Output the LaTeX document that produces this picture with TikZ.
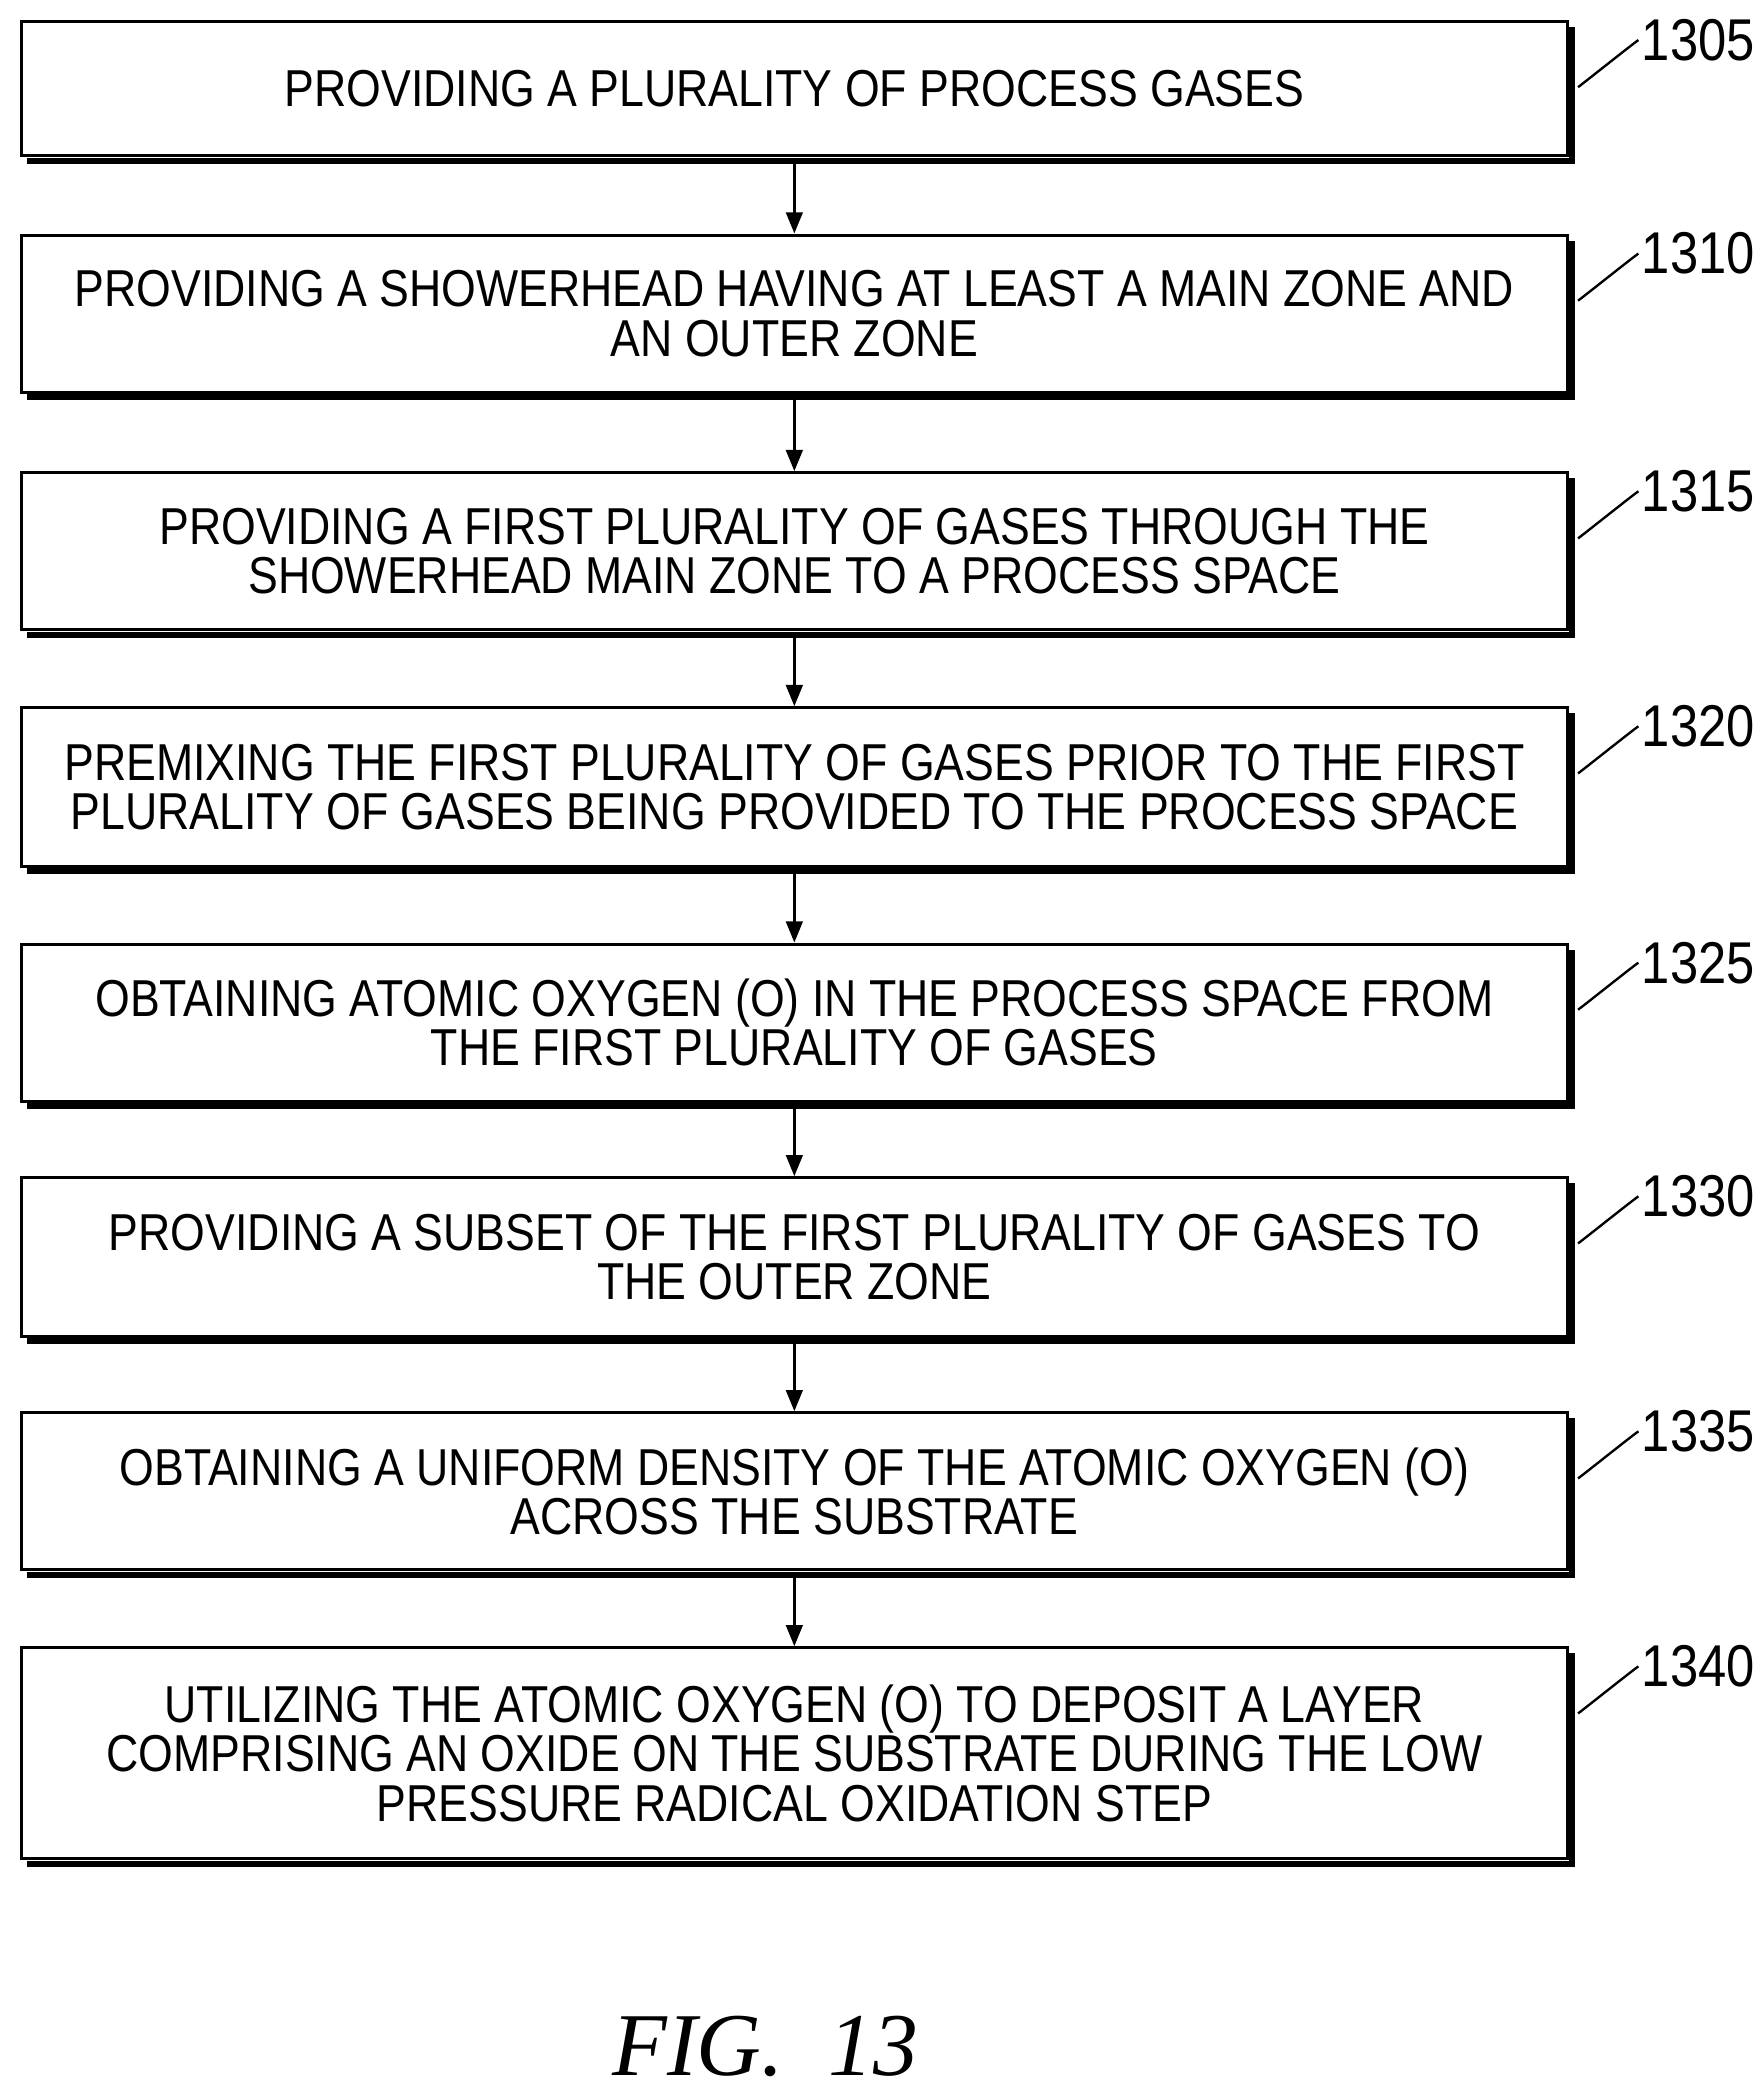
\documentclass[tikz,border=0pt]{standalone}
\usepackage{fontspec}
\setmainfont[FakeStretch=0.86]{Liberation Sans}
\newfontfamily\figfont{Liberation Serif}
\usetikzlibrary{arrows.meta,positioning}
\tikzset{
  stepbox/.style={rectangle, draw, line width=1.3pt, minimum width=23.02cm,
    align=center, font=\fontsize{22}{21}\selectfont, inner sep=0pt},
  flow/.style={-{Triangle[length=9pt,width=7pt]}, line width=1.3pt},
  reflabel/.style={font=\fontsize{25}{25}\selectfont, anchor=west, inner sep=1pt}
}
\newcommand{\boxshadow}[1]{\draw[line width=2.6pt] ([xshift=3pt,yshift=-1.5pt]#1.south west) -- ([xshift=1.5pt,yshift=-1.5pt]#1.south east) -- ([xshift=1.5pt,yshift=-3pt]#1.north east);}
\newcommand{\leader}[2]{\draw[line width=1pt] ([xshift=4pt]#1.north east) ++(0,-1.0cm) .. controls +(0.3,0.1) and +(-0.4,-0.3) .. ++(0.9cm,0.7cm) node[reflabel]{#2};}
\begin{document}
\begin{tikzpicture}[x=0.02cm,y=-0.02cm]
\useasboundingbox (0,0) rectangle (1310,1563);
\node[stepbox, minimum height=2cm] (s1305) at (591.5,66) {PROVIDING A PLURALITY OF PROCESS GASES};
\node[stepbox, minimum height=2.34cm] (s1310) at (591.5,233.5) {PROVIDING A SHOWERHEAD HAVING AT LEAST A MAIN ZONE AND\\AN OUTER ZONE};
\node[stepbox, minimum height=2.34cm] (s1315) at (591.5,410.5) {PROVIDING A FIRST PLURALITY OF GASES THROUGH THE\\SHOWERHEAD MAIN ZONE TO A PROCESS SPACE};
\node[stepbox, minimum height=2.36cm] (s1320) at (591.5,586) {PREMIXING THE FIRST PLURALITY OF GASES PRIOR TO THE FIRST\\PLURALITY OF GASES BEING PROVIDED TO THE PROCESS SPACE};
\node[stepbox, minimum height=2.34cm] (s1325) at (591.5,761.5) {OBTAINING ATOMIC OXYGEN (O) IN THE PROCESS SPACE FROM\\THE FIRST PLURALITY OF GASES};
\node[stepbox, minimum height=2.36cm] (s1330) at (591.5,936) {PROVIDING A SUBSET OF THE FIRST PLURALITY OF GASES TO\\THE OUTER ZONE};
\node[stepbox, minimum height=2.34cm] (s1335) at (591.5,1110.5) {OBTAINING A UNIFORM DENSITY OF THE ATOMIC  OXYGEN (O)\\ACROSS THE SUBSTRATE};
\node[stepbox, minimum height=3.14cm] (s1340) at (591.5,1305.5) {UTILIZING THE ATOMIC OXYGEN (O) TO DEPOSIT A LAYER\\COMPRISING AN OXIDE ON THE SUBSTRATE DURING THE LOW\\PRESSURE RADICAL OXIDATION STEP};
\foreach \s in {s1305,s1310,s1315,s1320,s1325,s1330,s1335,s1340}
  \boxshadow{\s};
\foreach \a/\b in {s1305/s1310,s1310/s1315,s1315/s1320,s1320/s1325,s1325/s1330,s1330/s1335,s1335/s1340}
  \draw[flow] ([yshift=-1.5pt]\a.south) -- (\b.north);
\leader{s1305}{1305}
\leader{s1310}{1310}
\leader{s1315}{1315}
\leader{s1320}{1320}
\leader{s1325}{1325}
\leader{s1330}{1330}
\leader{s1335}{1335}
\leader{s1340}{1340}
\node[font=\figfont\itshape\fontsize{38}{38}\selectfont] (fig) at (570,1524) {FIG.~~13};
\end{tikzpicture}
\end{document}
